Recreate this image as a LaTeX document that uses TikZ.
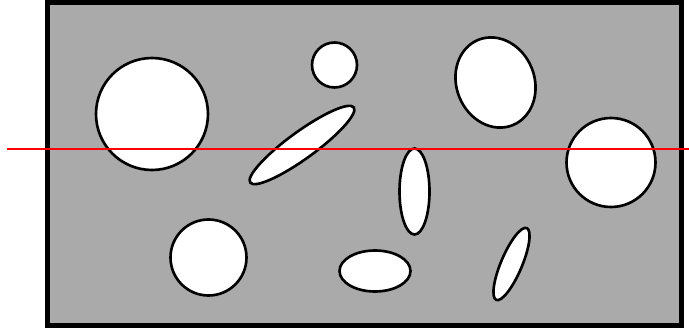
\documentclass[tikz,border=0pt]{standalone}
\usepackage{tikz}

\definecolor{plategray}{RGB}{170,170,170}

\begin{document}
\begin{tikzpicture}[
    x=0.02cm, y=-0.02cm,
    plate/.style={draw=black, fill=plategray, line width=2.8pt},
    hole/.style={draw=black, fill=white, line width=1.5pt},
    cutline/.style={draw=red, line width=0.7pt}
]
\useasboundingbox (0,0) rectangle (689,331);

% Plate
\draw[plate] (47.5,2.5) rectangle (681.5,325.5);

% Round holes
\draw[hole] (152,114) circle [radius=56];
\draw[hole] (334.5,65) circle [radius=22.5];
\draw[hole] (611,162.5) circle [radius=44.5];
\draw[hole] (208.5,257.5) circle [radius=38];

% Elliptic holes
\draw[hole, rotate around={112:(495.5,82.5)}] (495.5,82.5) ellipse [x radius=46, y radius=39];
\draw[hole, rotate around={36:(302,145)}] (302,145) ellipse [x radius=64, y radius=13.5];
\draw[hole] (414.5,191.5) ellipse [x radius=15, y radius=43];
\draw[hole] (375,271) ellipse [x radius=35.5, y radius=20.5];
\draw[hole, rotate around={67:(511.5,264)}] (511.5,264) ellipse [x radius=39, y radius=10.5];

% Cut line
\coordinate (cut west) at (7,149);
\coordinate (cut east) at (689,149);
\draw[cutline] (cut west) -- (cut east);

\end{tikzpicture}
\end{document}
